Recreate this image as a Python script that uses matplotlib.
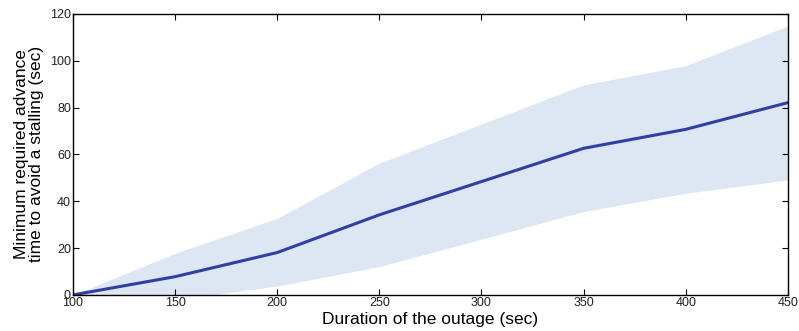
import matplotlib
matplotlib.use("Agg")
import matplotlib.pyplot as plt

duration = [100, 150, 200, 250, 300, 350, 400, 450]
mean_adv = [0, 7.8, 18.1, 34.2, 48.4, 62.6, 70.7, 82.1]
upper = [0, 17.8, 32.7, 56.3, 73.0, 89.7, 97.9, 114.9]
lower = [0, -2.0, 3.8, 12.1, 23.8, 35.6, 43.4, 49.1]
xticks = [100, 150, 200, 250, 300, 350, 400, 450]
yticks = [0, 20, 40, 60, 80, 100, 120]

plt.rcParams['font.family'] = ['Liberation Sans', 'DejaVu Sans']
fig = plt.figure(figsize=(7.99, 3.31), dpi=100)
ax = fig.add_axes([0.0914, 0.109, 0.8946, 0.849])
ax.fill_between(duration, lower, upper, color='#dde7f4', linewidth=0)
ax.plot(duration, mean_adv, color='#2f3fa3', linewidth=2.2)
ax.set_xlim(100, 450)
ax.set_ylim(0, 120)
ax.set_xticks(xticks)
ax.set_yticks(yticks)
ax.tick_params(direction='in', top=True, right=True, labelsize=9, labelcolor='#222222',
               length=4, width=0.8, pad=1.5)
for s in ax.spines.values():
    s.set_linewidth(1.0)
ax.set_xlabel('Duration of the outage (sec)', fontsize=12.5, labelpad=2)
ax.set_ylabel('Minimum required advance\ntime to avoid a stalling (sec)', fontsize=12.5, labelpad=4, linespacing=1.0)
fig.savefig('out.png', dpi=100)
